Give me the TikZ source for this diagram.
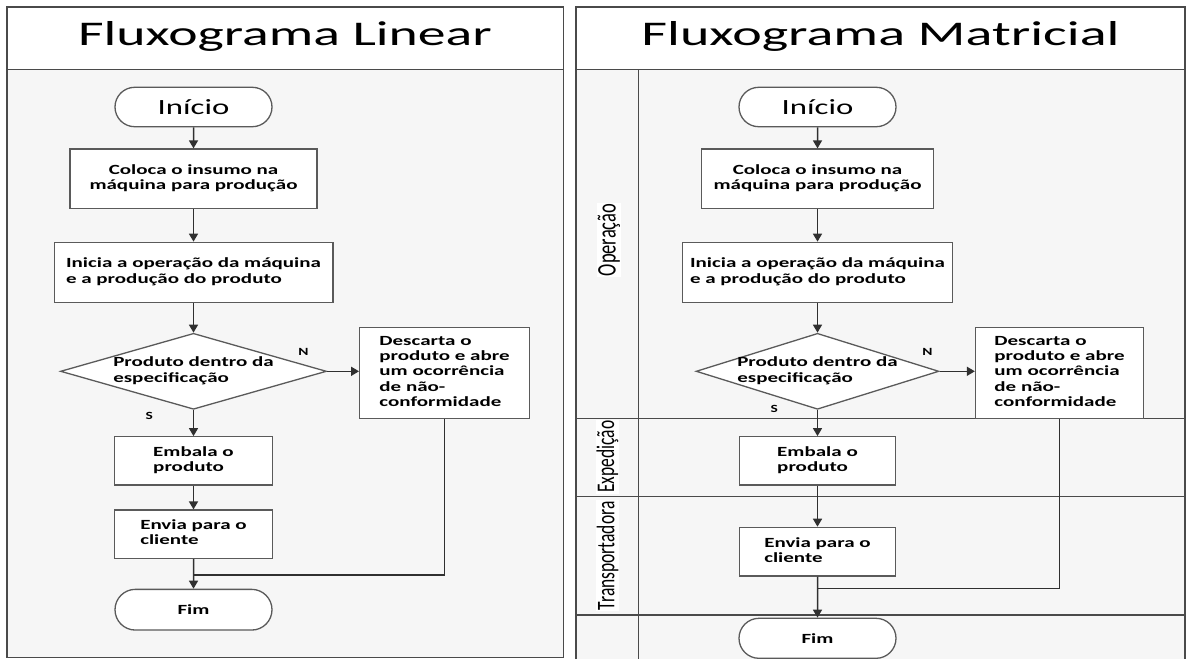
\documentclass[tikz,border=0pt]{standalone}
\usepackage{fontspec}
\setmainfont{Carlito}
\usepackage{graphicx}
\usetikzlibrary{arrows.meta,shapes.misc,shapes.geometric}

% horizontally widened text block: #1 = column alignment, #2 = lines
\newcommand\wblock[2]{\scalebox{1.5}[1]{\begin{tabular}{@{}#1@{}}#2\end{tabular}}}
\newcommand\wtext[2]{\scalebox{#1}[1]{#2}}
% upright lane caption, widened across the lane
\newcommand\lanetext[1]{\scalebox{1.45}[1]{\rotatebox{90}{#1}}}

\definecolor{panelbg}{HTML}{F6F6F6}
\definecolor{frame}{HTML}{4A4A4A}
\definecolor{boxline}{HTML}{5A5A5A}
\definecolor{wire}{HTML}{303030}

\begin{document}
\begin{tikzpicture}[x=1pt,y=-1pt,
  panel/.style={draw=frame,line width=1.6pt},
  sep/.style={draw=frame,line width=1.4pt},
  procbox/.style={draw=boxline,line width=1.3pt,fill=white,inner sep=0pt,
    font=\fontsize{14}{15.4}\selectfont\bfseries},
  term/.style={rounded rectangle,draw=boxline,line width=1.3pt,fill=white,
    inner sep=0pt,minimum width=157pt},
  decision/.style={diamond,draw=boxline,line width=1.3pt,fill=white,inner sep=0pt},
  dtext/.style={inner sep=0pt,font=\fontsize{14}{15.4}\selectfont\bfseries},
  lane/.style={fill=white,inner sep=1pt,font=\fontsize{17.5}{20}\selectfont},
  flag/.style={inner sep=0pt,font=\fontsize{11}{12}\selectfont\bfseries},
  arr/.style={draw=wire,line width=1.5pt,-{Triangle[length=8pt,width=9pt]}},
  wireline/.style={draw=wire,line width=1.5pt},
  title/.style={anchor=base,inner sep=0pt,font=\fontsize{34.6}{40}\selectfont}]

% canvas
\fill[white] (0,0) rectangle (1186,659);
\useasboundingbox (0,0) rectangle (1186,659);

% ---------------- linear flowchart panel ----------------
\fill[panelbg] (7,69.3) rectangle (563.5,657.3);
\draw[panel] (7,7) rectangle (563.5,657.3);
\draw[sep] (7,69.3) -- (563.5,69.3);
\node[title] (tL) at (285,45) {\wtext{1.61}{Fluxograma Linear}};

\node[term,minimum height=39.4pt] (iniL) at (193.5,107)
  {\fontsize{21.7}{24}\selectfont\wtext{1.51}{Início}};
\node[procbox,minimum width=247pt,minimum height=59.3pt] (colL) at (193.5,178.7)
  {\wblock{c}{Coloca o insumo na\\máquina para produção}};
\node[procbox,minimum width=278.7pt,minimum height=60pt] (opL) at (193.5,272.3)
  {\wblock{l}{Inicia a operação da máquina\\e a produção do produto}};
\node[decision,minimum width=266pt,minimum height=76pt] (decL) at (193.5,371.3) {};
\node[dtext] (decLt) at (decL.center) {\wblock{l}{Produto dentro da\\especificação}};
\node[procbox,minimum width=169.6pt,minimum height=91pt] (desL) at (444.5,372.8)
  {\wblock{l}{Descarta o\\produto e abre\\um ocorrência\\de não-\\conformidade}};
\node[procbox,minimum width=157.7pt,minimum height=48.3pt] (embL) at (193.5,460.9)
  {\wblock{l}{Embala o\\produto}};
\node[procbox,minimum width=157.7pt,minimum height=48.3pt] (envL) at (193.5,534.2)
  {\wblock{l}{Envia para o\\cliente}};
\node[term,minimum height=40.7pt,font=\fontsize{14}{15.4}\selectfont\bfseries] (fimL) at (193.5,609.7)
  {\wtext{1.5}{Fim}};
\node[flag] (nL) at (303.5,352.3) {\wtext{1.4}{N}};
\node[flag] (sL) at (149.3,415.7) {\wtext{1.4}{S}};
\coordinate (mL) at (193.5,575);

\draw[arr] (iniL) -- (colL);
\draw[arr] (colL) -- (opL);
\draw[arr] (opL) -- (decL);
\draw[arr] (decL.east) -- (decL.east -| desL.west);
\draw[arr] (decL) -- (embL);
\draw[arr] (embL) -- (envL);
\draw[arr] (envL) -- (fimL);
\draw[wireline] (desL.south) |- (mL);

% ---------------- swimlane flowchart panel ----------------
\fill[panelbg] (576,69.3) rectangle (1185,659);
\draw[panel] (576,659) -- (576,7) -- (1185,7) -- (1185,659);
\draw[sep] (576,69.3) -- (1185,69.3);
\draw[sep] (638.5,69.3) -- (638.5,659);
\draw[sep] (576,418.3) -- (1185,418.3);
\draw[sep] (576,496.7) -- (1185,496.7);
\draw[sep] (576,615) -- (1185,615);
\node[title] (tR) at (880.5,45) {\wtext{1.62}{Fluxograma Matricial}};

\node[lane,font=\fontsize{18.5}{21}\selectfont] (laneOp) at (609,240) {\lanetext{Operação}};
\node[lane] (laneEx) at (607.5,456.7) {\lanetext{Expedição}};
\node[lane] (laneTr) at (607.5,555.8) {\lanetext{Transportadora}};

\node[term,minimum height=39.4pt] (iniR) at (817.5,107)
  {\fontsize{21.7}{24}\selectfont\wtext{1.51}{Início}};
\node[procbox,minimum width=231.8pt,minimum height=59.3pt] (colR) at (817.5,178.7)
  {\wblock{c}{Coloca o insumo na\\máquina para produção}};
\node[procbox,minimum width=269.5pt,minimum height=60pt] (opR) at (817.5,272.3)
  {\wblock{l}{Inicia a operação da máquina\\e a produção do produto}};
\node[decision,minimum width=242.8pt,minimum height=76pt] (decR) at (817.5,371.3) {};
\node[dtext] (decRt) at (decR.center) {\wblock{l}{Produto dentro da\\especificação}};
\node[procbox,minimum width=168pt,minimum height=91pt] (desR) at (1059.5,372.8)
  {\wblock{l}{Descarta o\\produto e abre\\um ocorrência\\de não-\\conformidade}};
\node[procbox,minimum width=156.3pt,minimum height=48.3pt] (embR) at (817.5,460.9)
  {\wblock{l}{Embala o\\produto}};
\node[procbox,minimum width=156.3pt,minimum height=48.7pt] (envR) at (817.5,551.7)
  {\wblock{l}{Envia para o\\cliente}};
\node[term,minimum height=40pt,font=\fontsize{14}{15.4}\selectfont\bfseries] (fimR) at (817.5,638.3)
  {\wtext{1.5}{Fim}};
\node[flag] (nR) at (927.5,352) {\wtext{1.4}{N}};
\node[flag] (sR) at (774.3,409.3) {\wtext{1.4}{S}};
\coordinate (mR) at (817.5,588.3);

\draw[arr] (iniR) -- (colR);
\draw[arr] (colR) -- (opR);
\draw[arr] (opR) -- (decR);
\draw[arr] (decR.east) -- (decR.east -| desR.west);
\draw[arr] (decR) -- (embR);
\draw[arr] (embR) -- (envR);
\draw[arr] (envR) -- (fimR);
\draw[wireline] (desR.south) |- (mR);
\end{tikzpicture}
\end{document}
